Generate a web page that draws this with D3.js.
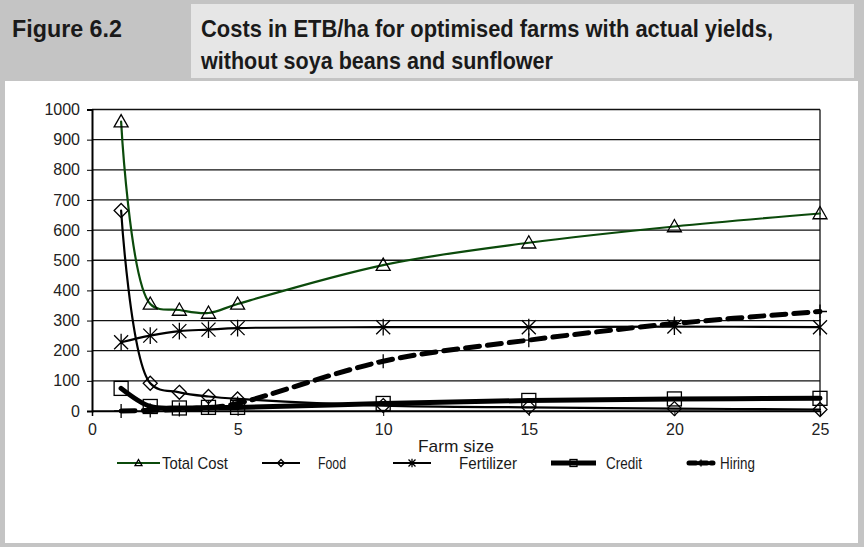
<!DOCTYPE html>
<html><head><meta charset="utf-8">
<script src="https://cdn.jsdelivr.net/npm/d3@7"></script>
<style>
html,body{margin:0;padding:0;background:#c4c4c4;}
svg{display:block;}
</style></head>
<body>
<svg id="c" width="864" height="547"></svg>
<script>
const farmSize = [1, 2, 3, 4, 5, 10, 15, 20, 25];
const totalCost = [960, 355, 335, 325, 355, 484, 558, 612, 655];
const food = [665, 92, 62, 48, 40, 18, 12, 8, 5];
const fertilizer = [228, 250, 265, 270, 275, 278, 278, 280, 278];
const credit = [75, 15, 10, 12, 12, 25, 35, 40, 42];
const hiring = [0, 2, 5, 10, 25, 165, 235, 290, 330];
const xTicks = [0, 5, 10, 15, 20, 25];
const yTicks = [0, 100, 200, 300, 400, 500, 600, 700, 800, 900, 1000];
const seriesNames = ["Total Cost", "Food", "Fertilizer", "Credit", "Hiring"];

const svg = d3.select("#c");
const sans = "'Liberation Sans',Arial,sans-serif";

// frame
svg.append("rect").attr("x",0).attr("y",0).attr("width",864).attr("height",547).attr("fill","#c4c4c4");
svg.append("rect").attr("x",191).attr("y",4).attr("width",663).attr("height",74).attr("fill","#e6e6e6");
svg.append("rect").attr("x",5).attr("y",81).attr("width",853).attr("height",462).attr("fill","#ffffff");

function narrowText(g, xx, yy, str, len, size, bold, anchor){
  const t = g.append("text").attr("x",xx).attr("y",yy).text(str)
    .attr("font-family",sans).attr("font-size",size).attr("fill","#1a1a1a")
    .attr("textLength",len).attr("lengthAdjust","spacingAndGlyphs");
  if(bold) t.attr("font-weight","bold");
  if(anchor) t.attr("text-anchor",anchor);
  return t;
}
narrowText(svg, 12, 37, "Figure 6.2", 110, 24, true);
narrowText(svg, 201, 37, "Costs in ETB/ha for optimised farms with actual yields,", 572, 24, true);
narrowText(svg, 201, 69, "without soya beans and sunflower", 352, 24, true);

const x = d3.scaleLinear().domain([0,25]).range([92,820]);
const y = d3.scaleLinear().domain([0,1000]).range([411,109.5]);

// gridlines
svg.append("g").selectAll("line").data(yTicks).join("line")
  .attr("x1",92).attr("x2",820).attr("y1",d=>y(d)).attr("y2",d=>y(d))
  .attr("stroke","#111").attr("stroke-width",1.3);
svg.append("line").attr("x1",820).attr("x2",820).attr("y1",y(1000)).attr("y2",y(0)).attr("stroke","#111").attr("stroke-width",1.3);

// axes
const yAxis = d3.axisLeft(y).tickValues(yTicks).tickSize(5).tickPadding(7).tickFormat(d3.format("d"));
const gy = svg.append("g").attr("transform","translate(92,0)").call(yAxis);
gy.select(".domain").attr("stroke","#000").attr("stroke-width",2);
gy.selectAll("text").attr("font-family",sans).attr("font-size",16).attr("fill","#222");

const xAxis = d3.axisBottom(x).tickValues(xTicks).tickSize(5).tickPadding(8);
const gx = svg.append("g").attr("transform","translate(0,411)").call(xAxis);
gx.select(".domain").attr("stroke","#000").attr("stroke-width",1.5);
gx.selectAll("text").attr("font-family",sans).attr("font-size",16).attr("fill","#222");

narrowText(svg, 456, 452, "Farm size", 76, 17, false, "middle");

const pts = vals => farmSize.map((f,i)=>[f, vals[i]]);
const line = d3.line().x(d=>x(d[0])).y(d=>y(d[1])).curve(d3.curveCatmullRom.alpha(0.5));

const series = [
  {name:seriesNames[0], vals:totalCost, color:"#0b4a0b", w:2.2, dash:null, marker:"tri"},
  {name:seriesNames[1], vals:food, color:"#000", w:2.2, dash:null, marker:"dia"},
  {name:seriesNames[2], vals:fertilizer, color:"#000", w:2.2, dash:null, marker:"star"},
  {name:seriesNames[3], vals:credit, color:"#000", w:5, dash:null, marker:"sq"},
  {name:seriesNames[4], vals:hiring, color:"#000", w:5, dash:"14,8", marker:"plus"}
];

function drawMarker(g, type, cx, cy, s){
  if(type==="tri"){
    g.append("path").attr("d",`M${cx},${cy-s}L${cx+s},${cy+s*0.75}L${cx-s},${cy+s*0.75}Z`)
      .attr("fill","none").attr("stroke","#000").attr("stroke-width",1.3);
  } else if(type==="dia"){
    g.append("path").attr("d",`M${cx},${cy-s}L${cx+s},${cy}L${cx},${cy+s}L${cx-s},${cy}Z`)
      .attr("fill","none").attr("stroke","#000").attr("stroke-width",1.3);
  } else if(type==="star"){
    g.append("path").attr("d",`M${cx-s},${cy-s}L${cx+s},${cy+s}M${cx-s},${cy+s}L${cx+s},${cy-s}M${cx},${cy-s*1.2}L${cx},${cy+s*1.2}`)
      .attr("stroke","#000").attr("stroke-width",1.3);
  } else if(type==="sq"){
    g.append("rect").attr("x",cx-s).attr("y",cy-s).attr("width",2*s).attr("height",2*s)
      .attr("fill","none").attr("stroke","#000").attr("stroke-width",1.3);
  } else if(type==="plus"){
    g.append("path").attr("d",`M${cx-s},${cy}L${cx+s},${cy}M${cx},${cy-s}L${cx},${cy+s}`)
      .attr("stroke","#000").attr("stroke-width",1.3);
  }
}

const plot = svg.append("g");
series.forEach(s=>{
  const p = plot.append("path").attr("d", line(pts(s.vals))).attr("fill","none")
    .attr("stroke",s.color).attr("stroke-width",s.w).attr("stroke-linecap","round");
  if(s.dash) p.attr("stroke-dasharray",s.dash);
});
series.forEach(s=>{
  const g = plot.append("g");
  pts(s.vals).forEach(d=>drawMarker(g, s.marker, x(d[0]), y(d[1]), 7));
});

// legend
const legendItems = [
  {lx:117, lw:43, tx:162, tw:66},
  {lx:262, lw:38, tx:318, tw:28},
  {lx:393, lw:38, tx:459, tw:58},
  {lx:551, lw:45, tx:606, tw:36},
  {lx:689, lw:24, tx:720, tw:35}
];
const lg = svg.append("g");
series.forEach((s,i)=>{
  const L = legendItems[i];
  const ly = 463;
  const ln = lg.append("line").attr("x1",L.lx).attr("x2",L.lx+L.lw).attr("y1",ly).attr("y2",ly)
    .attr("stroke",s.color).attr("stroke-width",s.w);
  if(s.dash){ ln.attr("stroke-dasharray","7,4").attr("stroke-linecap","round"); }
  drawMarker(lg, s.marker, L.lx+L.lw/2, ly, 3.5);
  narrowText(lg, L.tx, ly+6, s.name, L.tw, 17, false);
});
</script>
</body></html>
